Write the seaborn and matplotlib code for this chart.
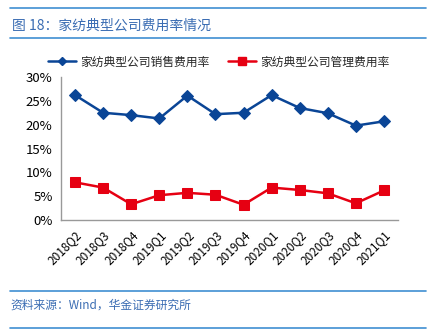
import matplotlib
matplotlib.use("Agg")
import matplotlib.pyplot as plt
import seaborn as sns
import pandas as pd
import numpy as np
from matplotlib.lines import Line2D

sns.set_theme(style="white")
plt.rcParams['font.family'] = ['Noto Sans CJK SC', 'DejaVu Sans']
plt.rcParams['axes.unicode_minus'] = False

quarters = ["2018Q2", "2018Q3", "2018Q4", "2019Q1", "2019Q2", "2019Q3",
            "2019Q4", "2020Q1", "2020Q2", "2020Q3", "2020Q4", "2021Q1"]
sales_rate = [26.2, 22.5, 22.0, 21.3, 26.1, 22.2, 22.5, 26.2, 23.5, 22.4, 19.8, 20.7]
admin_rate = [7.9, 6.8, 3.3, 5.2, 5.7, 5.3, 3.2, 6.8, 6.3, 5.6, 3.5, 6.2]
yticks = [0, 5, 10, 15, 20, 25, 30]
ytick_labels = ["0%", "5%", "10%", "15%", "20%", "25%", "30%"]
series_names = ["家纺典型公司销售费用率", "家纺典型公司管理费用率"]
title_text = "图 18：家纺典型公司费用率情况"
source_text = "资料来源：Wind，华金证券研究所"

blue = "#0a4596"
red = "#e60012"
frame_blue = "#3f8fd2"
text_blue = "#3b6db3"

df = pd.DataFrame({"x": np.arange(len(quarters)), "sales": sales_rate, "admin": admin_rate})

fig = plt.figure(figsize=(4.38, 3.31), dpi=100)
ax = fig.add_axes([61 / 438, 1 - 220 / 331, 337 / 438, 143 / 331])

sns.lineplot(data=df, x="x", y="sales", ax=ax, color=blue, lw=1.8, marker="D",
             markersize=6.5, markeredgecolor=blue, markerfacecolor=blue)
sns.lineplot(data=df, x="x", y="admin", ax=ax, color=red, lw=1.8, marker="s",
             markersize=7.5, markeredgecolor=red, markerfacecolor=red)

ax.set_xlim(-0.5, len(quarters) - 0.5)
ax.set_ylim(0, 30)
ax.set_yticks(yticks)
ax.set_yticklabels(ytick_labels, fontsize=9.5, color="black")
ax.set_xticks(np.arange(len(quarters)))
ax.set_xticklabels(quarters, rotation=45, ha="right", rotation_mode="anchor",
                   fontsize=8.5, color="black")
ax.set_xticks(np.arange(len(quarters) + 1) - 0.5, minor=True)
ax.tick_params(axis="x", which="major", length=0, pad=6)
ax.tick_params(axis="x", which="minor", length=4, width=0.8, color="#999999", direction="out")
ax.tick_params(axis="y", length=4, width=0.8, color="#999999", direction="out", pad=2)
ax.set_xlabel("")
ax.set_ylabel("")
for side in ["top", "right"]:
    ax.spines[side].set_visible(False)
for side in ["left", "bottom"]:
    ax.spines[side].set_color("#999999")
    ax.spines[side].set_linewidth(1.0)
ax.grid(False)

handles = [Line2D([0], [0], color=blue, lw=1.8, marker="D", markersize=4.5),
           Line2D([0], [0], color=red, lw=1.8, marker="s", markersize=6)]
fig.legend(handles, series_names, loc="center", bbox_to_anchor=(0.5, 1 - 62 / 331),
           ncol=2, frameon=False, fontsize=8.5, handlelength=2.3, columnspacing=1.6,
           handletextpad=0.4)

# decorations
fig.add_artist(Line2D([10 / 438, 426 / 438], [1 - 8 / 331] * 2, color=frame_blue, lw=1.2))
fig.add_artist(Line2D([10 / 438, 426 / 438], [1 - 38 / 331] * 2, color=frame_blue, lw=1.2))
fig.add_artist(Line2D([10 / 438, 426 / 438], [1 - 291 / 331] * 2, color=frame_blue, lw=1.2))
fig.add_artist(Line2D([10 / 438, 426 / 438], [1 - 328 / 331] * 2, color=frame_blue, lw=1.2))
fig.text(12 / 438, 1 - 26 / 331, title_text, fontsize=10, color=text_blue, va="center",
         ha="left", fontweight="light")
fig.text(10 / 438, 1 - 305 / 331, source_text, fontsize=8.5, color=text_blue, va="center",
         ha="left", style="italic")

fig.savefig("out.png", dpi=100)
